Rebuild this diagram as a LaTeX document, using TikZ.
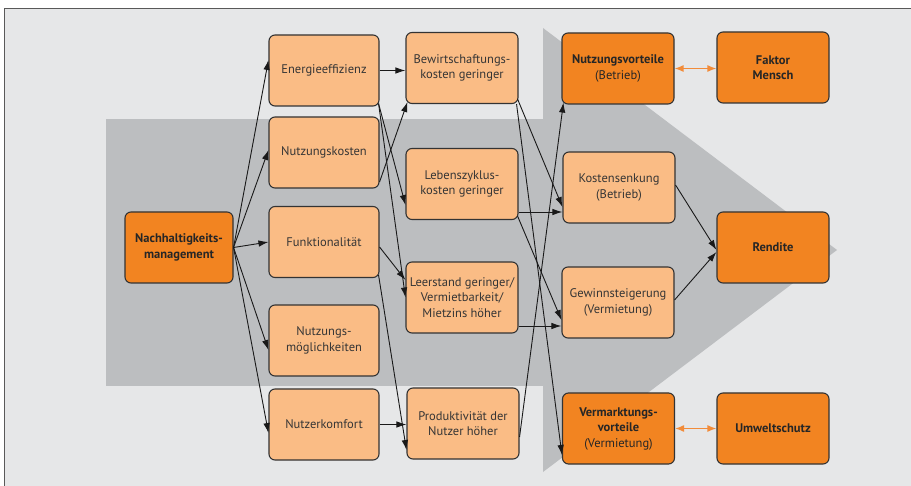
\documentclass[tikz,border=0pt]{standalone}
\usepackage{fontspec}
\setmainfont{PT Sans}
\usetikzlibrary{arrows.meta,calc}
\definecolor{bgc}{HTML}{E6E7E8}
\definecolor{arrc}{HTML}{BCBEC0}
\definecolor{lor}{HTML}{FABC85}
\definecolor{dor}{HTML}{F28421}
\definecolor{txt}{HTML}{353535}
\definecolor{bd}{HTML}{333333}
\definecolor{dbl}{HTML}{F28C3A}
\begin{document}
\begin{tikzpicture}[x=1pt,y=-1pt,
 box/.style={draw=bd, line width=1.1pt, rounded corners=6pt, minimum width=112pt, minimum height=71pt, align=center, text=txt, font=\fontsize{12.5}{15.5}\selectfont, inner sep=0pt},
 lbox/.style={box, fill=lor},
 dbox/.style={box, fill=dor, text=black!85},
 con/.style={draw=black!90, line width=0.9pt, -{Latex[length=10pt,width=6.5pt]}},
 oarr/.style={draw=dbl, line width=1.3pt, {Latex[length=9pt,width=7pt]}-{Latex[length=9pt,width=7pt]}}
]
\useasboundingbox (0,0) rectangle (911,486);
\fill[white] (0,0) rectangle (911,486);
\draw[fill=bgc, draw=black!65, line width=0.8pt] (4,8) rectangle (930,500);
\fill[arrc] (106,119) rectangle (543.5,386);
\fill[arrc] (543,28) -- (837,250) -- (543,472) -- cycle;

% column 1
\node[dbox, minimum width=108pt] (nm) at (179,247.5) {\textbf{Nachhaltigkeits-}\\\textbf{management}};
% column 2
\node[lbox, minimum width=110pt] (ee) at (324,70.5) {Energieeffizienz};
\node[lbox, minimum width=110pt] (nk) at (324,152.5) {Nutzungskosten};
\node[lbox, minimum width=110pt] (fu) at (324,242) {Funktionalität};
\node[lbox, minimum width=110pt] (nmo) at (324,340.5) {Nutzungs-\\möglichkeiten};
\node[lbox, minimum width=110pt] (nko) at (324,424.5) {Nutzerkomfort};
% column 3
\node[lbox] (bw) at (462,68) {Bewirtschaftungs-\\kosten geringer};
\node[lbox] (lz) at (462,184) {Lebenszyklus-\\kosten geringer};
\node[lbox] (ls) at (462,297.5) {Leerstand geringer/\\Vermietbarkeit/\\Mietzins höher};
\node[lbox] (pr) at (463,423.5) {Produktivität der\\Nutzer höher};
% column 4
\node[dbox] (nv) at (618,68.5) {\textbf{Nutzungsvorteile}\\(Betrieb)};
\node[lbox] (ks) at (619,187.5) {Kostensenkung\\(Betrieb)};
\node[lbox] (gs) at (618,302.5) {Gewinnsteigerung\\(Vermietung)};
\node[dbox] (vm) at (618.5,428.5) {\textbf{Vermarktungs-}\\\textbf{vorteile}\\(Vermietung)};
% column 5
\node[dbox] (fm) at (773,67.5) {\textbf{Faktor}\\\textbf{Mensch}};
\node[dbox] (re) at (773,247.5) {\textbf{Rendite}};
\node[dbox] (us) at (773,428.5) {\textbf{Umweltschutz}};

% connectors
\draw[con] (nm.east) -- ([yshift=10.5pt]ee.west);
\draw[con] (nm.east) -- ([yshift=2.5pt]nk.west);
\draw[con] (nm.east) -- (fu.west);
\draw[con] (nm.east) -- ([yshift=-9.5pt]nmo.west);
\draw[con] (nm.east) -- ([yshift=-8.5pt]nko.west);

\draw[con] (ee.east) -- (ee.east -| bw.west);
\draw[con] ([shift={(-1pt,3pt)}]ee.south east) -- ([yshift=-21pt]lz.west);
\draw[con] ([shift={(-1pt,3pt)}]ee.south east) -- (ls.west);
\draw[con] ([yshift=-29.5pt]nk.east) -- ([shift={(2pt,2pt)}]bw.south west);
\draw[con] ([yshift=-5pt]fu.east) -- ([yshift=17.5pt]ls.west);
\draw[con] ([shift={(-1pt,3pt)}]fu.south east) -- ([yshift=-26.5pt]pr.west);
\draw[con] (nko.east) -- (nko.east -| pr.west);

\draw[con] ([shift={(-1pt,5pt)}]bw.south east) -- ([yshift=-19.5pt]ks.west);
\draw[con] ([shift={(-2pt,0pt)}]bw.south east) -- ([yshift=-26.5pt]vm.west);
\draw[con] ([yshift=-28pt]lz.east) -- ([yshift=-28pt]lz.east -| ks.west);
\draw[con] ([shift={(-1pt,4pt)}]lz.south east) -- ([yshift=-17.5pt]gs.west);
\draw[con] ([yshift=-28.5pt]ls.east) -- ([yshift=-28.5pt]ls.east -| gs.west);
\draw[con] ([yshift=-13.5pt]pr.east) -- ([shift={(2pt,2pt)}]nv.south west);
\draw[con] ([yshift=2.5pt]ks.east) -- ([yshift=-2.5pt]re.west);
\draw[con] ([yshift=2.5pt]gs.east) -- ([yshift=-4.5pt]re.west);

\draw[oarr] (nv.east) -- (nv.east -| fm.west);
\draw[oarr] (vm.east) -- (vm.east -| us.west);
\end{tikzpicture}
\end{document}
